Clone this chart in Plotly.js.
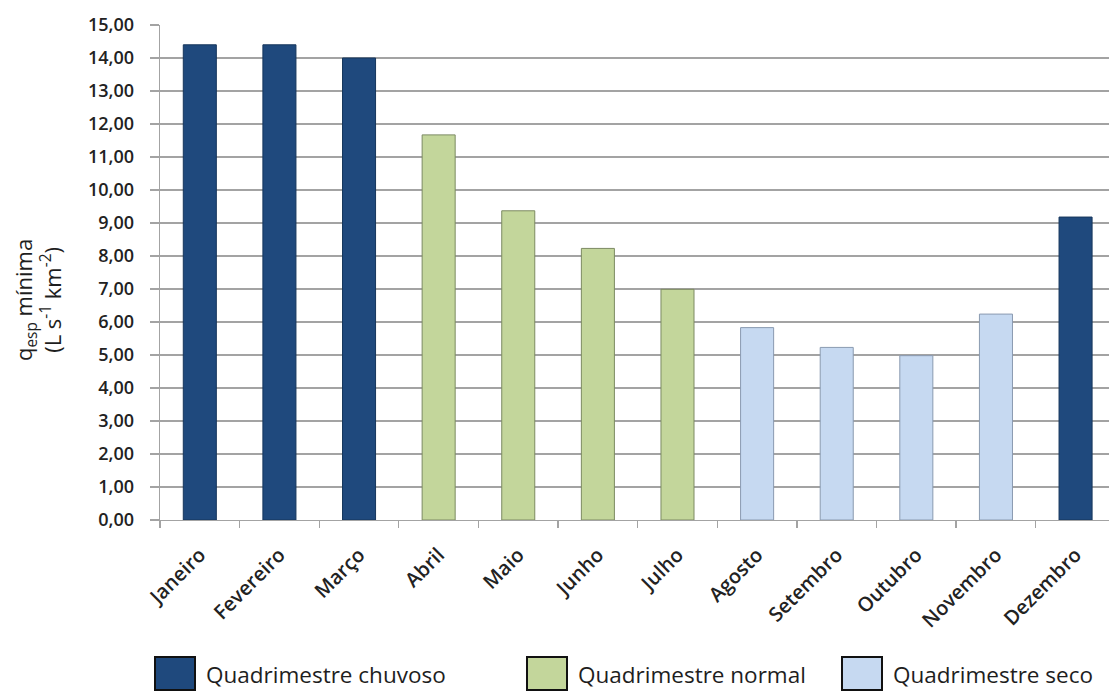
<!DOCTYPE html>
<html>
<head>
<meta charset="utf-8">
<script src="https://cdn.plot.ly/plotly-3.0.1.min.js"></script>
<style>
  html, body { margin: 0; padding: 0; background: #fff; overflow: hidden; }
  #chart { width: 1109px; height: 691px; }
</style>
</head>
<body>
<div id="chart"></div>
<script>
// Minimum specific discharge per month, grouped into four-month periods
const months = ['Janeiro', 'Fevereiro', 'Março', 'Abril', 'Maio', 'Junho',
                'Julho', 'Agosto', 'Setembro', 'Outubro', 'Novembro', 'Dezembro'];
const qespMin = [14.40, 14.40, 14.00, 11.67, 9.37, 8.23, 6.99, 5.83, 5.23, 4.98, 6.24, 9.18];
// 0 = chuvoso, 1 = normal, 2 = seco
const periodOf = [0, 0, 0, 1, 1, 1, 1, 2, 2, 2, 2, 0];
const periodNames = ['Quadrimestre chuvoso', 'Quadrimestre normal', 'Quadrimestre seco'];
const yTicks = [0, 1, 2, 3, 4, 5, 6, 7, 8, 9, 10, 11, 12, 13, 14, 15];

const fillColors = ['#1f497d', '#c3d69b', '#c6d9f1'];
const edgeColors = ['#16365c', '#7c8a62', '#8a9ab0'];

const W = 1109, H = 691;
const M = { l: 160, r: 0, t: 25, b: 171 };
const plotW = W - M.l - M.r, plotH = H - M.t - M.b;
// pixel -> paper helpers for items placed outside the plot area
const px = x => (x - M.l) / plotW;
const py = y => (H - M.b - y) / plotH;

const trace = {
  type: 'bar',
  x: months,
  y: qespMin,
  marker: {
    color: periodOf.map(p => fillColors[p]),
    line: { color: periodOf.map(p => edgeColors[p]), width: 1 }
  },
  hoverinfo: 'x+y',
  showlegend: false
};

const gridGray = '#a3a3a3';
const baseFont = { family: 'Open Sans, DejaVu Sans, sans-serif', color: '#1e1e1e' };
const tickFont = Object.assign({}, baseFont, { weight: 600, color: '#222' });

// Legend drawn as swatches + labels under the category axis
const legendX = [155, 527, 842];
const shapes = [], annotations = [];
periodNames.forEach((name, i) => {
  shapes.push({
    type: 'rect', xref: 'paper', yref: 'paper',
    x0: px(legendX[i]), x1: px(legendX[i] + 40),
    y0: py(690), y1: py(657),
    fillcolor: fillColors[i],
    line: { color: '#111', width: 2 }
  });
  annotations.push({
    xref: 'paper', yref: 'paper',
    x: px(legendX[i] + 49), y: py(674),
    xanchor: 'left', yanchor: 'middle',
    text: name, showarrow: false,
    font: Object.assign({}, baseFont, { size: 22.5 })
  });
});

// Axis title, rotated, left of the tick labels
annotations.push({
  xref: 'paper', yref: 'paper',
  x: px(37), y: py(300),
  xanchor: 'center', yanchor: 'middle',
  textangle: -90,
  text: 'q<sub>esp</sub> mínima<br>(L s<sup>-1</sup> km<sup>-2</sup>)',
  showarrow: false,
  font: Object.assign({}, baseFont, { size: 22 })
});

const layout = {
  width: W, height: H,
  margin: M,
  paper_bgcolor: '#fff', plot_bgcolor: '#fff',
  separators: ',.',
  bargap: 0.585,
  font: baseFont,
  xaxis: {
    type: 'category',
    range: [-0.5, 11.42],
    tickangle: -45,
    tickson: 'boundaries',
    ticks: 'outside', ticklen: 7, tickwidth: 1.3, tickcolor: gridGray,
    ticklabelstandoff: 14,
    showline: true, linecolor: gridGray, linewidth: 1.3,
    showgrid: false,
    tickfont: Object.assign({}, tickFont, { size: 20 }),
    fixedrange: true
  },
  yaxis: {
    range: [0, 15],
    tickvals: yTicks,
    tickformat: '.2f',
    ticks: 'outside', ticklen: 9, tickwidth: 1.3, tickcolor: gridGray,
    ticklabelstandoff: 12,
    showline: true, linecolor: gridGray, linewidth: 1.3,
    showgrid: true, gridcolor: gridGray, gridwidth: 1.3,
    zeroline: false,
    tickfont: Object.assign({}, tickFont, { size: 18 }),
    fixedrange: true
  },
  shapes: shapes,
  annotations: annotations
};

Plotly.newPlot('chart', [trace], layout, { displayModeBar: false, staticPlot: true });
</script>
</body>
</html>
